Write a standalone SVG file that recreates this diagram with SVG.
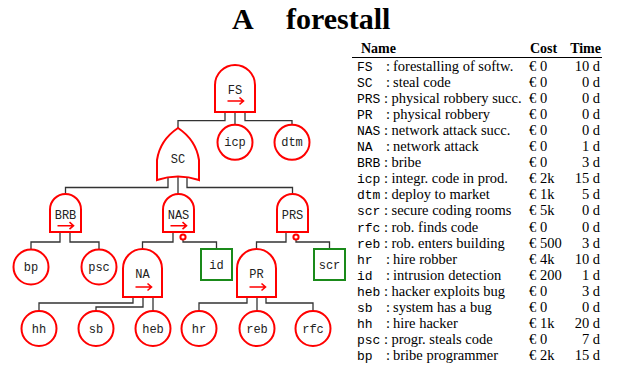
<svg xmlns="http://www.w3.org/2000/svg" width="621" height="375" viewBox="0 0 621 375">
<style>
.g{fill:#fff;stroke:#f00;stroke-width:2}
.b{fill:#fff;stroke:#1a8a1a;stroke-width:2}
.ar{fill:none;stroke:#f00;stroke-width:1.6}
.lbl{font-family:"Liberation Mono",monospace;font-size:12px;fill:#222;text-anchor:middle}
.c path{fill:none;stroke:#333;stroke-width:1.3}
.t{font-family:"Liberation Serif",serif;font-size:14.5px;fill:#000}
.m{font-family:"Liberation Mono",monospace;font-size:13px;fill:#000}
.h{font-family:"Liberation Serif",serif;font-size:14px;font-weight:bold;fill:#000}
.r{text-anchor:end}
</style>
<defs>
<path id="arr" d="M-8,0 H8 M4,-3.5 L8,0 L4,3.5"/>
</defs>
<rect width="621" height="375" fill="#fff"/>
<text font-family="Liberation Serif,serif" font-size="30" font-weight="bold" y="28.5"><tspan x="232">A</tspan><tspan x="286">forestall</tspan></text>

<g id="connectors" class="c">
<path d="M225,112 V120.7 H178 V130"/>
<path d="M235,112 V125"/>
<path d="M245,112 V120.7 H292 V125"/>
<path d="M168,178 V187.5 H65.5 V195"/>
<path d="M178,176 V195"/>
<path d="M187,178 V187.5 H292.5 V195"/>
<path d="M60,232 V242 H31 V250"/>
<path d="M70,232 V242 H99 V250"/>
<path d="M173,232 V242 H142.5 V250"/>
<path d="M183,239.5 V242 H216.5 V249"/>
<path d="M286,232 V242 H256.5 V250"/>
<path d="M296,239.5 V242 H329.5 V249"/>
<path d="M133,297 V303 H39 V311"/>
<path d="M143,297 V307 H96 V311"/>
<path d="M153,297 V311"/>
<path d="M247,297 V303 H199 V311"/>
<path d="M257,297 V311"/>
<path d="M266,297 V303 H313 V311"/>
</g>

<g id="FS"><path class="g" d="M215,112 V85 A20,20 0 0 1 255,85 V112 Z"/><text class="lbl" x="235" y="93.5">FS</text><use href="#arr" class="ar" x="235.5" y="101"/></g>
<g id="icp"><circle class="g" cx="235" cy="142.3" r="17.5"/><text class="lbl" x="235" y="146.3">icp</text></g>
<g id="dtm"><circle class="g" cx="292" cy="142.3" r="17.5"/><text class="lbl" x="292" y="146.3">dtm</text></g>
<g id="SC"><path class="g" d="M178,128 Q160,140 157,160 V180 Q178,173 199,180 V160 Q196,140 178,128 Z"/><text class="lbl" x="178" y="163">SC</text></g>
<g id="BRB"><path class="g" d="M50,232 V209.5 A15.5,15.5 0 0 1 81,209.5 V232 Z"/><text class="lbl" x="65.5" y="219">BRB</text><use href="#arr" class="ar" x="65.5" y="225.7"/></g>
<g id="NAS"><path class="g" d="M163,232 V209.5 A15.5,15.5 0 0 1 194,209.5 V232 Z"/><circle class="g" cx="183" cy="237" r="2.6" stroke-width="1.6"/><text class="lbl" x="178.5" y="219">NAS</text><use href="#arr" class="ar" x="178.5" y="225.7"/></g>
<g id="PRS"><path class="g" d="M277,232 V209.5 A15.5,15.5 0 0 1 308,209.5 V232 Z"/><circle class="g" cx="296" cy="237" r="2.6" stroke-width="1.6"/><text class="lbl" x="292.5" y="219">PRS</text></g>
<g id="bp"><circle class="g" cx="31" cy="267" r="17.5"/><text class="lbl" x="31" y="271">bp</text></g>
<g id="psc"><circle class="g" cx="99" cy="267" r="17.5"/><text class="lbl" x="99" y="271">psc</text></g>
<g id="id"><rect class="b" x="201" y="249" width="31" height="31"/><text class="lbl" x="216.5" y="268.5">id</text></g>
<g id="scr"><rect class="b" x="314" y="249" width="31" height="31"/><text class="lbl" x="329.5" y="268.5">scr</text></g>
<g id="NA"><path class="g" d="M123,297 V268.5 A19.5,19.5 0 0 1 162,268.5 V297 Z"/><text class="lbl" x="142.5" y="278">NA</text><use href="#arr" class="ar" x="143.5" y="287"/></g>
<g id="PR"><path class="g" d="M237,297 V268.5 A19.5,19.5 0 0 1 276,268.5 V297 Z"/><text class="lbl" x="256.5" y="278">PR</text><use href="#arr" class="ar" x="257.5" y="287"/></g>
<g id="hh"><circle class="g" cx="39" cy="328.5" r="17.5"/><text class="lbl" x="39" y="332.5">hh</text></g>
<g id="sb"><circle class="g" cx="96" cy="328.5" r="17.5"/><text class="lbl" x="96" y="332.5">sb</text></g>
<g id="heb"><circle class="g" cx="153" cy="328.5" r="17.5"/><text class="lbl" x="153" y="332.5">heb</text></g>
<g id="hr"><circle class="g" cx="199" cy="328.5" r="17.5"/><text class="lbl" x="199" y="332.5">hr</text></g>
<g id="reb"><circle class="g" cx="257" cy="328.5" r="17.5"/><text class="lbl" x="257" y="332.5">reb</text></g>
<g id="rfc"><circle class="g" cx="313" cy="328.5" r="17.5"/><text class="lbl" x="313" y="332.5">rfc</text></g>

<g id="table">
<text class="h" x="361" y="53">Name</text>
<text class="h" x="530" y="53">Cost</text>
<text class="h r" x="601" y="53">Time</text>
<line x1="352" y1="57.5" x2="602" y2="57.5" stroke="#000" stroke-width="1"/>
<g class="m">
<text x="357" y="70.5">FS</text><text x="357" y="86.6">SC</text><text x="357" y="102.7">PRS</text><text x="357" y="118.8">PR</text><text x="357" y="134.9">NAS</text><text x="357" y="151">NA</text><text x="357" y="167.1">BRB</text><text x="357" y="183.2">icp</text><text x="357" y="199.3">dtm</text><text x="357" y="215.4">scr</text><text x="357" y="231.5">rfc</text><text x="357" y="247.6">reb</text><text x="357" y="263.7">hr</text><text x="357" y="279.8">id</text><text x="357" y="295.9">heb</text><text x="357" y="312">sb</text><text x="357" y="328.1">hh</text><text x="357" y="344.2">psc</text><text x="357" y="360.3">bp</text>
</g>
<g class="t">
<text x="386" y="70.5">:</text><text x="386" y="86.6">:</text><text x="384" y="102.7">:</text><text x="386" y="118.8">:</text><text x="384" y="134.9">:</text><text x="386" y="151">:</text><text x="384" y="167.1">:</text><text x="384" y="183.2">:</text><text x="384" y="199.3">:</text><text x="384" y="215.4">:</text><text x="384" y="231.5">:</text><text x="384" y="247.6">:</text><text x="386" y="263.7">:</text><text x="386" y="279.8">:</text><text x="384" y="295.9">:</text><text x="386" y="312">:</text><text x="386" y="328.1">:</text><text x="384" y="344.2">:</text><text x="386" y="360.3">:</text>
<text x="393" y="70.5">forestalling of softw.</text>
<text x="393" y="86.6">steal code</text>
<text x="391.5" y="102.7">physical robbery succ.</text>
<text x="393" y="118.8">physical robbery</text>
<text x="391.5" y="134.9">network attack succ.</text>
<text x="393" y="151">network attack</text>
<text x="391.5" y="167.1">bribe</text>
<text x="391.5" y="183.2">integr. code in prod.</text>
<text x="391.5" y="199.3">deploy to market</text>
<text x="391.5" y="215.4">secure coding rooms</text>
<text x="391.5" y="231.5">rob. finds code</text>
<text x="391.5" y="247.6">rob. enters building</text>
<text x="393" y="263.7">hire robber</text>
<text x="393" y="279.8">intrusion detection</text>
<text x="391.5" y="295.9">hacker exploits bug</text>
<text x="393" y="312">system has a bug</text>
<text x="393" y="328.1">hire hacker</text>
<text x="391.5" y="344.2">progr. steals code</text>
<text x="393" y="360.3">bribe programmer</text>
<text x="529" y="70.5">€ 0</text><text x="529" y="86.6">€ 0</text><text x="529" y="102.7">€ 0</text><text x="529" y="118.8">€ 0</text><text x="529" y="134.9">€ 0</text><text x="529" y="151">€ 0</text><text x="529" y="167.1">€ 0</text><text x="529" y="183.2">€ 2k</text><text x="529" y="199.3">€ 1k</text><text x="529" y="215.4">€ 5k</text><text x="529" y="231.5">€ 0</text><text x="529" y="247.6">€ 500</text><text x="529" y="263.7">€ 4k</text><text x="529" y="279.8">€ 200</text><text x="529" y="295.9">€ 0</text><text x="529" y="312">€ 0</text><text x="529" y="328.1">€ 1k</text><text x="529" y="344.2">€ 0</text><text x="529" y="360.3">€ 2k</text>
</g>
<g class="t r">
<text x="600" y="70.5">10 d</text><text x="600" y="86.6">0 d</text><text x="600" y="102.7">0 d</text><text x="600" y="118.8">0 d</text><text x="600" y="134.9">0 d</text><text x="600" y="151">1 d</text><text x="600" y="167.1">3 d</text><text x="600" y="183.2">15 d</text><text x="600" y="199.3">5 d</text><text x="600" y="215.4">0 d</text><text x="600" y="231.5">0 d</text><text x="600" y="247.6">3 d</text><text x="600" y="263.7">10 d</text><text x="600" y="279.8">1 d</text><text x="600" y="295.9">3 d</text><text x="600" y="312">0 d</text><text x="600" y="328.1">20 d</text><text x="600" y="344.2">7 d</text><text x="600" y="360.3">15 d</text>
</g>
</g>
</svg>
